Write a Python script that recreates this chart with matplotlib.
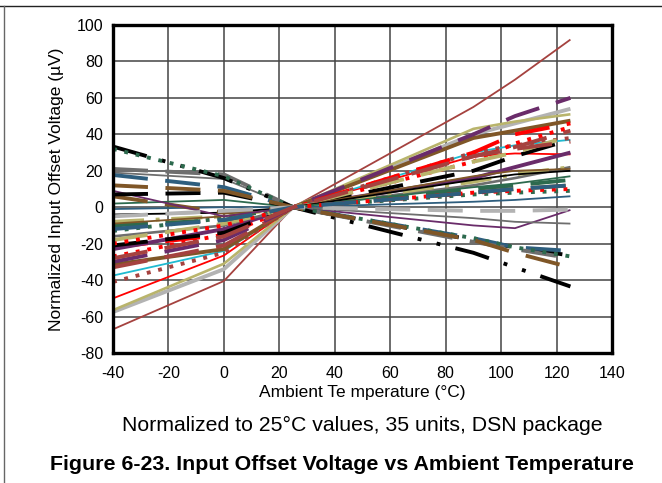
import numpy as np
import matplotlib
matplotlib.use("Agg")
import matplotlib.pyplot as plt
from matplotlib.lines import Line2D

plt.rcParams['font.family'] = ['Liberation Sans', 'DejaVu Sans']
plt.rcParams['axes.unicode_minus'] = False

# temperatures where each unit was measured (deg C)
temps = [-40, 0, 25, 90, 105, 125]

# offset drift per unit, normalized to 25 C (uV), one row per unit
unit_offsets = [
    [-67.0, -40.5, 0, 55, 70, 92],
    [-57.5, -34.0, 0, 40, 46, 54],
    [-56.5, -31.0, 0, 43, 47, 51],
    [-50.0, -26.5, 0, 28, 29.5, 29],
    [-37.5, -24.0, 0, 30, 34, 37],
    [-41.0, -25.0, 0, 30, 34, 38],
    [-31.5, -23.0, 0, 38, 42, 47.5],
    [-33.0, -21.0, 0, 28, 33, 42],
    [-30.0, -18.0, 0, 40, 50, 60],
    [-27.0, -15.0, 0, 25, 35, 44],
    [-22.0, -15.0, 0, 30, 40, 46],
    [-23.0, -12.0, 0, 16, 22, 30],
    [-21.0, -14.0, 0, 20, 28, 37],
    [-16.0, -10.0, 0, 12, 16, 22],
    [-18.0, -9.0, 0, 25, 30, 39],
    [-8.0, -5.0, 0, 14, 18, 22],
    [-10.0, -7.0, 0, 10, 12, 15],
    [-13.0, -6.0, 0, 7, 8, 9],
    [-1.0, 0.0, 0, 3, 4, 6],
    [-9.0, -5.0, 0, 17, 20, 21],
    [-4.0, -3.0, 0, 15, 18, 20],
    [2.0, 4.0, 0, 11, 13, 17],
    [6.0, -3.0, 0, 8, 10, 12],
    [9.0, -5.0, 0, -10, -11.5, -1.5],
    [19.0, 15.5, 0, -6, -8, -9],
    [7.0, 8.0, 0, -18, -22, -26.5],
    [17.7, 11.0, 0, -17, -22, -24],
    [21.0, 18.0, 0, -19, -23, -28],
    [33.3, 16.0, 0, -25, -33, -43.5],
    [32.0, 17.0, 0, -17, -22, -27],
    [12.0, 9.0, 0, -18, -25, -33],
    [-5.0, -2.0, 0, -2, -2, -1.3],
    [-20.0, -10.0, 0, 8, 9, 10],
    [-12.0, -7.0, 0, 8, 10, 12],
    [-28.0, -16.0, 0, 28, 32, 36],
]

x_ticks = [-40, -20, 0, 20, 40, 60, 80, 100, 120, 140]
y_ticks = [-80, -60, -40, -20, 0, 20, 40, 60, 80, 100]

# look of each unit's trace: colour, style
brownred = '#A5423F'
lgray = '#B3B3B3'
khaki = '#B9B46C'
red = '#FF0000'
cyan = '#1FBAD0'
brown = '#7F5627'
purple = '#6A2C6A'
black = '#000000'
dgray = '#6E6E6E'
green = '#2D6A4E'
teal = '#2E5E7E'

unit_looks = [
    (brownred, 'thin'), (lgray, 'thick'), (khaki, 'mid'), (red, 'thin'),
    (cyan, 'thin'), (brownred, 'dot'), (brown, 'thick'), (brownred, 'dash'),
    (purple, 'dash'), (red, 'dot'), (red, 'dash'), (purple, 'thick'),
    (black, 'dash'), (dgray, 'mid'), (khaki, 'dash'), (khaki, 'dashdot'),
    (green, 'dash'), (green, 'dot'), (teal, 'thin'), (brown, 'thin'),
    (black, 'thin'), (green, 'thin'), (brown, 'dash'), (purple, 'thin'),
    (dgray, 'thin'), (black, 'dash'), (teal, 'dash'), (dgray, 'dash'),
    (black, 'dashdotdot'), (green, 'dot'), (brown, 'dash'), (lgray, 'dash'),
    (red, 'dot'), (teal, 'dash'), (brownred, 'dash'),
]

styles = {
    'thin': dict(lw=1.3, ls='-'),
    'mid': dict(lw=1.9, ls='-'),
    'thick': dict(lw=2.8, ls='-'),
    'dash': dict(lw=2.8, ls=(0, (9, 4.5))),
    'dot': dict(lw=2.8, ls=(0, (1, 2))),
    'dashdot': dict(lw=2.8, ls=(0, (8, 3, 1, 3))),
    'dashdotdot': dict(lw=2.8, ls=(0, (9, 4, 1, 4, 1, 4))),
}

fig = plt.figure(figsize=(6.62, 4.83), dpi=100)
fig.patch.set_facecolor('white')

# page frame lines (top rule and left rule)
fig.add_artist(Line2D([0, 1], [1 - 6 / 483, 1 - 6 / 483], color='#222222', lw=1.0))
fig.add_artist(Line2D([4 / 662, 4 / 662], [0, 1 - 6 / 483], color='#666666', lw=1.0))

ax = fig.add_axes([113 / 662, 1 - 353 / 483, 499 / 662, 328 / 483])

for vals, (col, sty) in zip(unit_offsets, unit_looks):
    st = styles[sty]
    ax.plot(temps, vals, color=col, linewidth=st['lw'], linestyle=st['ls'],
            dash_capstyle='butt', solid_capstyle='butt')

ax.set_xlim(-40, 140)
ax.set_ylim(-80, 100)
ax.set_xticks(x_ticks)
ax.set_yticks(y_ticks)
ax.tick_params(length=0, labelsize=11.5)
ax.tick_params(axis='x', pad=9)
ax.tick_params(axis='y', pad=7)
ax.grid(True, color='#444444', linewidth=1.1)
ax.set_axisbelow(True)
for sp in ax.spines.values():
    sp.set_linewidth(2.4)
    sp.set_color('black')

ax.set_xlabel('Ambient Te mperature (°C)', fontsize=12.5, labelpad=3)
ax.set_ylabel('Normalized Input Offset Voltage (µV)', fontsize=12.5, labelpad=9)

fig.text(362 / 662, 1 - 425 / 483, 'Normalized to 25°C values, 35 units, DSN package',
         ha='center', va='center', fontsize=15.3)
fig.text(342 / 662, 1 - 465 / 483, 'Figure 6-23. Input Offset Voltage vs Ambient Temperature',
         ha='center', va='center', fontsize=15.4, fontweight='bold')

fig.savefig('out.png', dpi=100, facecolor='white')
